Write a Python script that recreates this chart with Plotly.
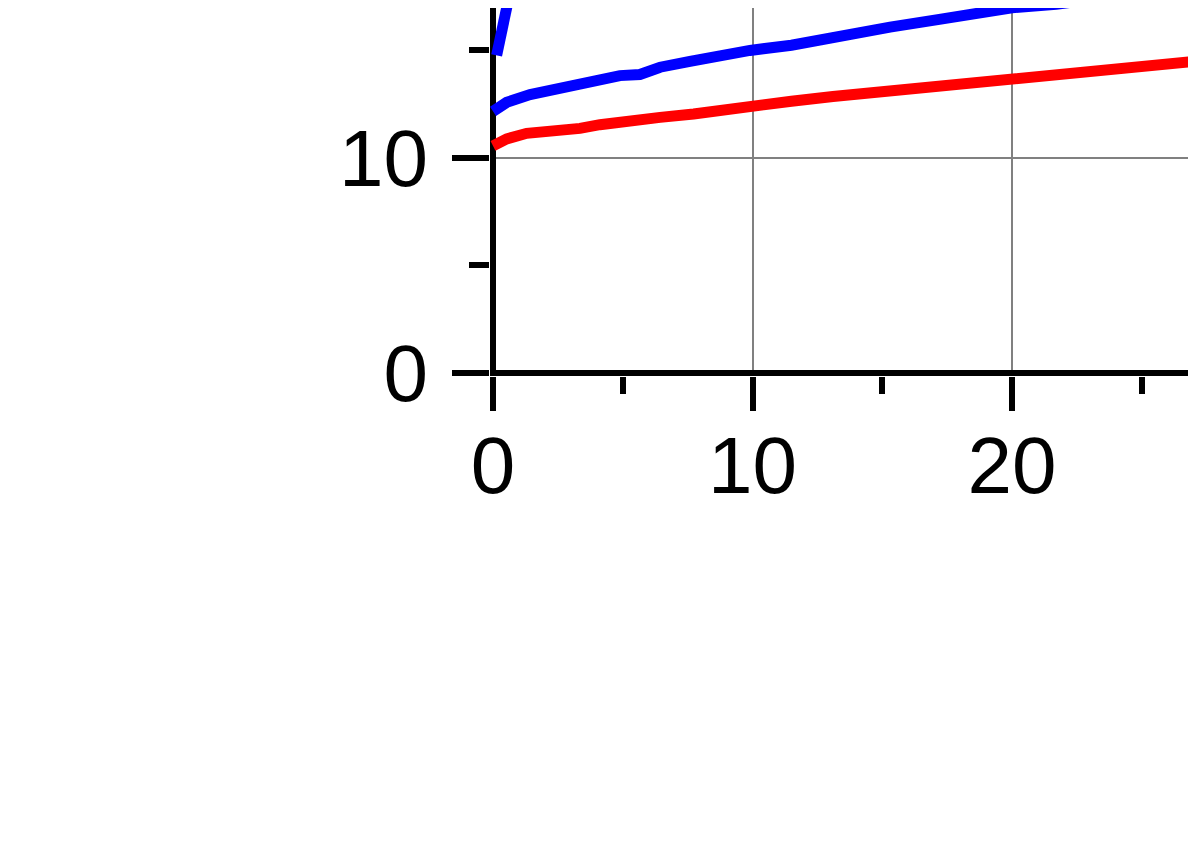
"""Zoomed crop of a line chart: two blue curves and one red curve near the origin."""

import plotly.graph_objects as go

# Values
red_x = [0, 0.53, 1.3, 2.45, 3.35, 4.12, 5.28, 6.44, 7.73, 8.75, 10.03, 11.5,
         13.1, 14.4, 15.7, 16.8, 18.25, 20.0, 21.5, 23.0, 24.2, 25.3, 27.1]
red_y = [10.55, 10.87, 11.13, 11.23, 11.36, 11.53, 11.64, 11.87, 12.03, 12.22, 12.37, 12.62,
         12.84, 12.99, 13.15, 13.3, 13.46, 13.61, 13.86, 14.01, 14.14, 14.33, 14.48]

blue_low_x = [0, 0.53, 1.43, 2.58, 3.74, 4.89, 5.66, 6.44, 7.59, 8.75, 9.9, 11.5,
              13.4, 15.3, 17.2, 19.2, 20.0, 21.7, 23.7]
blue_low_y = [12.15, 12.57, 12.93, 13.24, 13.53, 13.81, 13.86, 14.2, 14.47, 14.74, 14.98, 15.22,
              15.67, 16.06, 16.42, 16.84, 16.96, 17.12, 17.45]

blue_steep_x = [0.14, 0.36, 0.59, 0.9]
blue_steep_y = [14.75, 16.0, 17.3, 19.1]

x_ticks = [0, 10, 20]
y_ticks = [0, 10]

fig = go.Figure()
for xs, ys, col in [(red_x, red_y, "#ff0000"),
                    (blue_low_x, blue_low_y, "#0000ff"),
                    (blue_steep_x, blue_steep_y, "#0000ff")]:
    fig.add_trace(go.Scatter(x=xs, y=ys, mode="lines",
                             line=dict(color=col, width=11), showlegend=False))

# the black axes are zero lines, so they sit under the curves and centred on 0
axis_style = dict(
    showline=False,
    zeroline=True, zerolinecolor="black", zerolinewidth=6,
    ticks="outside", tickwidth=6, tickcolor="black",
    showgrid=True, gridcolor="#808080", gridwidth=2,
    tickfont=dict(family="Liberation Sans, Arial", size=80, color="black"),
    minor=dict(ticks="outside", tickwidth=6, tickcolor="black",
               dtick=5, showgrid=False),
)

fig.update_xaxes(range=[-0.116, 27.09], tickvals=x_ticks, ticklen=34,
                 minor_ticklen=17, ticklabelstandoff=-14, **axis_style)
fig.update_yaxes(range=[-0.14, 16.95], tickvals=y_ticks, ticklen=37,
                 minor_ticklen=20, ticklabelstandoff=8, **axis_style)

fig.update_layout(
    width=1188, height=840,
    margin=dict(l=482, r=0, t=0, b=472),
    plot_bgcolor="white", paper_bgcolor="white",
)

fig.write_html("out.html")
